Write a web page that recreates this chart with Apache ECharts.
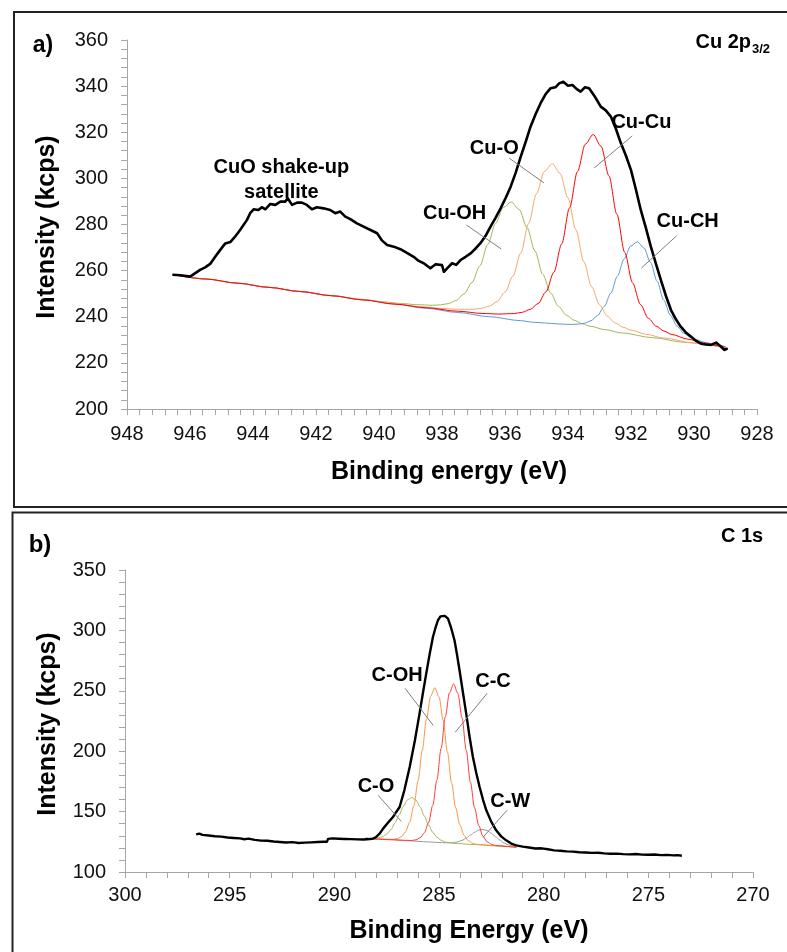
<!DOCTYPE html>
<html>
<head>
<meta charset="utf-8">
<script src="https://cdn.jsdelivr.net/npm/echarts@6/dist/echarts.min.js"></script>
<style>
html,body{margin:0;padding:0;background:#fff}
#chart{width:787px;height:952px}
</style>
</head>
<body>
<div id="chart"></div>
<script>
// ---------- Cu 2p3/2 spectrum: [binding energy (eV), intensity (kcps)] ----------
const cuEnvelope = [[946.56,258.2],[946.3,258.0],[946.0,257.4],[945.89,258.4],[945.68,260.3],[945.52,261.4],[945.36,262.9],[945.2,266.0],[945.04,269.0],[944.88,271.8],[944.72,272.4],[944.57,274.7],[944.41,277.6],[944.19,282.0],[944.09,284.9],[943.98,286.6],[943.83,286.3],[943.72,287.5],[943.61,286.6],[943.45,288.9],[943.29,288.5],[943.13,289.9],[942.98,289.9],[942.9,291.4],[942.76,288.5],[942.6,289.5],[942.45,289.5],[942.29,288.5],[942.13,286.6],[941.97,287.5],[941.76,287.0],[941.55,286.3],[941.39,284.9],[941.23,285.6],[941.07,283.4],[940.91,282.3],[940.7,280.5],[940.49,279.1],[940.27,277.6],[940.06,276.2],[939.9,273.0],[939.74,271.1],[939.53,270.4],[939.32,269.3],[939.1,267.6],[938.9,266.0],[938.74,264.2],[938.58,263.2],[938.37,261.0],[938.2,262.8],[938.0,262.4],[937.94,259.5],[937.8,261.5],[937.68,263.2],[937.55,262.5],[937.41,264.6],[937.25,266.0],[937.09,267.5],[936.94,269.5],[936.78,271.9],[936.62,275.0],[936.46,279.1],[936.3,282.9],[936.14,287.0],[935.98,291.5],[935.82,296.4],[935.66,302.5],[935.5,309.4],[935.34,316.0],[935.19,322.4],[935.03,327.8],[934.87,332.6],[934.71,336.5],[934.55,339.1],[934.4,339.5],[934.28,341.2],[934.15,341.9],[934.0,340.2],[933.86,340.5],[933.73,338.8],[933.6,337.6],[933.46,339.5],[933.33,339.1],[933.15,335.5],[932.96,331.1],[932.8,329.5],[932.64,326.8],[932.48,321.5],[932.32,315.2],[932.16,309.8],[932.0,303.6],[931.85,295.5],[931.69,286.3],[931.53,278.6],[931.37,270.4],[931.21,263.0],[931.05,255.9],[930.89,249.0],[930.73,242.9],[930.57,238.8],[930.42,235.7],[930.26,233.2],[930.1,231.4],[929.94,229.6],[929.78,228.3],[929.62,228.0],[929.46,227.8],[929.3,228.8],[929.14,227.0],[929.04,225.6],[928.93,226.3]];

// fitted components, each drawn on top of the shared background
const cuCuFit = [[946.5,258.2],[945.5,256.38],[944.5,254.57],[943.5,252.75],[942.5,250.93],[941.5,249.12],[940.5,247.30],[939.5,245.48],[938.5,243.9],[937.5,242.4],[936.7,241.41],[936.2,241.18],[935.7,241.38],[935.45,241.95],[935.2,243.19],[934.95,245.71],[934.7,250.79],[934.45,259.25],[934.2,271.55],[933.95,287.24],[933.7,302.94],[933.45,314.81],[933.2,319.03],[932.95,313.91],[932.7,301.12],[932.45,284.52],[932.2,267.91],[931.95,254.71],[931.7,245.33],[931.45,239.35],[931.2,235.93],[930.95,233.77],[930.7,232.30],[930.2,230.28],[929.7,228.69],[929.3,227.55],[929.0,226.9]];

const cuOFit = [[946.5,258.2],[945.5,256.38],[944.5,254.57],[943.5,252.75],[942.5,250.93],[941.5,249.12],[940.5,247.30],[939.5,245.8],[938.75,244.4],[938.0,243.60],[937.5,243.25],[937.0,243.25],[936.75,243.64],[936.5,244.58],[936.25,246.58],[936.0,250.68],[935.75,257.57],[935.5,267.62],[935.25,280.46],[935.0,293.31],[934.75,303.00],[934.5,306.40],[934.25,302.10],[934.0,291.49],[933.75,277.74],[933.5,263.98],[933.25,253.03],[933.0,245.22],[932.75,240.22],[932.5,237.32],[932.25,235.46],[932.0,234.17],[931.5,232.35],[931.0,230.88],[930.0,228.6],[929.0,226.7]];

const cuOHFit = [[946.5,258.2],[945.5,256.38],[944.5,254.57],[943.5,252.75],[942.5,250.93],[941.5,249.12],[940.5,247.5],[939.9,246.5],[939.3,245.73],[938.8,245.23],[938.3,244.98],[938.05,245.15],[937.8,245.71],[937.55,247.04],[937.3,249.91],[937.05,254.80],[936.8,262.00],[936.55,271.23],[936.3,280.47],[936.05,287.41],[935.8,289.76],[935.55,286.51],[935.3,278.65],[935.05,268.51],[934.8,258.36],[934.55,250.26],[934.3,244.45],[934.05,240.68],[933.8,238.45],[933.55,236.97],[933.3,235.90],[932.8,234.33],[932.3,233.01],[931.3,230.9],[930.3,228.9],[929.0,226.5]];

const cuCHFit = [[946.5,258.2],[945.5,256.38],[944.5,254.57],[943.5,252.75],[942.5,250.93],[941.5,249.12],[940.5,247.30],[939.5,245.48],[938.5,243.66],[937.5,241.85],[936.5,240.03],[935.5,238.3],[935.1,237.6],[934.74,237.32],[934.32,236.89],[933.9,236.66],[933.69,236.77],[933.48,237.21],[933.27,238.26],[933.06,240.55],[932.85,244.47],[932.64,250.24],[932.43,257.64],[932.22,265.05],[932.01,270.62],[931.8,272.49],[931.59,269.86],[931.38,263.53],[931.17,255.36],[930.96,247.18],[930.75,240.65],[930.54,235.97],[930.33,232.92],[930.12,231.11],[929.91,229.91],[929.7,229.03],[929.28,227.73],[929.0,227.0]];

// ---------- C 1s spectrum ----------
const cEnvelope = [[296.6,131.2],[296.45,131.8],[296.3,130.7],[296.0,130.2],[295.7,129.6],[295.4,129.3],[295.1,128.6],[294.8,128.2],[294.5,127.8],[294.3,127.1],[294.1,127.6],[293.8,126.6],[293.5,126.0],[293.2,125.9],[292.9,125.2],[292.6,124.8],[292.3,124.4],[292.0,124.7],[291.7,124.0],[291.4,124.3],[291.1,124.5],[290.8,124.8],[290.5,125.0],[290.35,125.1],[290.3,127.4],[290.1,127.8],[289.8,127.5],[289.5,127.3],[289.2,127.2],[288.9,127.0],[288.6,126.9],[288.3,127.3],[288.15,127.6],[288.0,129.0],[287.85,131.5],[287.67,135.9],[287.45,140.5],[287.2,145.5],[287.05,149.5],[286.88,153.8],[286.65,168.0],[286.4,186.9],[286.15,209.0],[285.93,231.1],[285.77,248.0],[285.61,264.2],[285.45,280.0],[285.29,294.5],[285.17,302.0],[285.05,308.4],[284.93,311.6],[284.84,312.5],[284.72,312.0],[284.57,309.8],[284.42,302.0],[284.26,291.8],[284.14,280.0],[284.02,267.0],[283.86,249.0],[283.7,231.1],[283.54,212.0],[283.38,195.2],[283.22,182.0],[283.06,170.4],[282.9,160.0],[282.74,151.1],[282.5,141.5],[282.27,134.5],[282.03,129.5],[281.79,126.2],[281.55,123.5],[281.31,122.1],[281.0,121.0],[280.7,120.3],[280.4,119.5],[280.1,119.6],[279.8,118.8],[279.5,117.9],[279.2,117.6],[278.9,117.1],[278.6,116.9],[278.3,116.4],[278.0,116.1],[277.7,115.8],[277.4,115.9],[277.1,115.4],[276.8,115.1],[276.5,115.2],[276.2,114.8],[275.9,114.6],[275.6,114.9],[275.3,114.4],[275.0,114.3],[274.7,114.5],[274.4,114.0],[274.1,114.2],[273.8,113.8],[273.6,114.0],[273.4,113.5]];

const cOHFit = [[288.5,127.96],[287.9,127.4],[287.2,127.00],[287.0,127.56],[286.8,129.15],[286.6,133.17],[286.4,141.29],[286.2,155.03],[286.0,175.43],[285.8,200.70],[285.6,226.22],[285.4,245.47],[285.2,252.56],[285.0,245.05],[284.8,225.40],[284.6,199.46],[284.4,173.79],[284.2,152.97],[284.0,138.81],[283.8,130.29],[283.6,125.85],[283.4,123.86],[283.2,122.88],[282.3,121.8],[281.3,120.54]];

const cCFit = [[288.5,127.96],[287.4,126.8],[286.3,126.09],[286.1,126.67],[285.9,128.32],[285.7,132.46],[285.5,140.84],[285.3,155.02],[285.1,176.06],[284.9,202.13],[284.7,228.45],[284.5,248.32],[284.3,255.63],[284.1,247.90],[283.9,227.63],[283.7,200.89],[283.5,174.42],[283.3,152.96],[283.1,138.36],[282.9,129.58],[282.7,125.02],[282.5,122.97],[282.3,121.97],[281.8,121.1],[281.3,120.54]];

const cOFit = [[288.5,127.96],[288.3,127.87],[288.1,127.87],[287.9,128.18],[287.7,129.16],[287.5,131.30],[287.3,135.01],[287.1,140.60],[286.9,147.56],[286.7,154.59],[286.5,159.86],[286.3,161.70],[286.1,159.44],[285.9,153.77],[285.7,146.32],[285.5,138.96],[285.3,132.95],[285.1,128.82],[284.9,126.28],[284.7,124.88],[284.5,124.17],[284.3,123.75],[283.3,122.7],[282.3,121.6],[281.3,120.54]];

const cWFit = [[288.5,127.96],[287.5,126.9],[286.5,125.9],[285.5,124.9],[284.9,124.30],[284.5,124.15],[284.3,124.37],[284.1,125.01],[283.9,126.22],[283.7,128.10],[283.5,130.49],[283.3,132.89],[283.1,134.67],[282.9,135.20],[282.7,134.25],[282.5,132.07],[282.3,129.25],[282.1,126.46],[281.9,124.16],[281.7,122.53],[281.5,121.49],[281.3,120.85]];

// ---------- annotations (data units) ----------
const cuLabels = ['CuO shake-up\nsatellite', 'Cu-O', 'Cu-Cu', 'Cu-OH', 'Cu-CH'];
const cuLabelAt = [[943.1,299.3],[936.34,313.0],[931.67,324.2],[937.6,284.8],[930.2,281.3]];
const cuLeaders = [null, [[935.87,308.8],[934.76,298.0]], [[931.96,318.4],[933.17,304.5]], [[937.23,279.8],[936.12,269.4]], [[930.56,275.0],[931.67,261.1]]];

const cLabels = ['C-OH', 'C-C', 'C-O', 'C-W'];
const cLabelAt = [[287.0,262.8],[282.42,257.9],[288.01,170.9],[281.6,158.5]];
const cLeaders = [[[286.62,252.1],[285.28,221.4]], [[282.7,247.9],[284.23,215.6]], [[287.91,163.5],[286.81,142.0]], [[281.75,151.1],[282.9,128.7]]];

// ---------- axes: [min, max, interval] ----------
const cuXRange = [928, 948, 2];
const cuYRange = [200, 360, 20];
const cXRange = [270, 300, 5];
const cYRange = [100, 350, 50];

const FONT = '"Liberation Sans", Arial, Helvetica, sans-serif';
const AXIS_GRAY = '#a6a6a6';

function xAxis(grid, r, margin) {
  return {
    type: 'value', gridIndex: grid, min: r[0], max: r[1], interval: r[2], inverse: true,
    axisLine: { show: true, onZero: false, lineStyle: { color: AXIS_GRAY, width: 1 } },
    axisTick: { show: true, length: 6, lineStyle: { color: AXIS_GRAY } },
    minorTick: { show: true, splitNumber: 5, length: 6, lineStyle: { color: AXIS_GRAY } },
    splitLine: { show: false },
    axisLabel: { color: '#111', fontSize: 20, fontFamily: FONT, margin: margin }
  };
}
function yAxis(grid, r) {
  return {
    type: 'value', gridIndex: grid, min: r[0], max: r[1], interval: r[2],
    axisLine: { show: true, onZero: false, lineStyle: { color: AXIS_GRAY, width: 1 } },
    axisTick: { show: true, length: 6, lineStyle: { color: AXIS_GRAY } },
    minorTick: { show: true, splitNumber: 5, length: 6, lineStyle: { color: AXIS_GRAY } },
    splitLine: { show: false },
    axisLabel: { color: '#111', fontSize: 20, fontFamily: FONT, margin: 19 }
  };
}

function fitLine(grid, data, color, width) {
  return {
    type: 'line', xAxisIndex: grid, yAxisIndex: grid, data: data,
    showSymbol: false, symbol: 'none', smooth: 0.3, smoothMonotone: 'x',
    lineStyle: { color: color, width: width || 1 }, z: 2, silent: true
  };
}
function envelopeLine(grid, data, width) {
  return {
    type: 'line', xAxisIndex: grid, yAxisIndex: grid, data: data,
    showSymbol: false, symbol: 'none', smooth: false,
    lineStyle: { color: '#000', width: width, join: 'round' }, z: 5, silent: true
  };
}

const chart = echarts.init(document.getElementById('chart'), null, { renderer: 'canvas' });

chart.setOption({
  animation: false,
  backgroundColor: '#fff',
  grid: [
    { left: 127, top: 40, width: 630, height: 369 },
    { left: 125, top: 570, width: 628, height: 302 }
  ],
  xAxis: [xAxis(0, cuXRange, 15), xAxis(1, cXRange, 13)],
  yAxis: [yAxis(0, cuYRange), yAxis(1, cYRange)],
  series: [
    fitLine(0, cuOHFit, '#9bbb59'),
    fitLine(0, cuCHFit, '#5b9bd5'),
    fitLine(0, cuOFit, '#f7a66c'),
    fitLine(0, cuCuFit, '#ff0000'),
    envelopeLine(0, cuEnvelope, 2.6),
    fitLine(1, cWFit, '#9a9a9a'),
    fitLine(1, cOFit, '#9bbb59'),
    fitLine(1, cOHFit, '#f79646'),
    fitLine(1, cCFit, '#ff3b3b'),
    envelopeLine(1, cEnvelope, 2.4)
  ]
});

// Frames, panel tags, axis titles and peak annotations
const g = [];
g.push({ type: 'rect', shape: { x: 14, y: 12, width: 800, height: 495 }, style: { fill: 'none', stroke: '#222', lineWidth: 2 }, silent: true });
g.push({ type: 'rect', shape: { x: 12.5, y: 512.5, width: 800, height: 500 }, style: { fill: 'none', stroke: '#222', lineWidth: 2 }, silent: true });

function txt(x, y, text, size, opts) {
  const o = Object.assign({ align: 'center', rot: 0, weight: 'bold' }, opts || {});
  return {
    type: 'text', x: x, y: y, rotation: o.rot, silent: true, z: 10,
    style: { text: text, fill: '#000', font: o.weight + ' ' + size + 'px ' + FONT,
             textAlign: o.align, textVerticalAlign: 'middle', lineHeight: o.lh || size * 1.25 }
  };
}
g.push(txt(43, 46, 'a)', 23));
g.push(txt(40, 545, 'b)', 24));
g.push(txt(751, 42, 'Cu 2p', 20, { align: 'right' }));
g.push(txt(752, 49, '3/2', 13, { align: 'left' }));
g.push(txt(742, 536, 'C 1s', 20));
g.push(txt(47, 227, 'Intensity (kcps)', 25, { rot: Math.PI / 2 }));
g.push(txt(48, 724, 'Intensity (kcps)', 25, { rot: Math.PI / 2 }));
g.push(txt(449, 472, 'Binding energy (eV)', 25));
g.push(txt(469, 931, 'Binding Energy (eV)', 25));

function annotate(grid, labels, at, leaders) {
  labels.forEach(function (lab, i) {
    const p = chart.convertToPixel({ gridIndex: grid }, at[i]);
    g.push(txt(p[0], p[1], lab, 20, { lh: 25 }));
    if (leaders[i]) {
      const a = chart.convertToPixel({ gridIndex: grid }, leaders[i][0]);
      const b = chart.convertToPixel({ gridIndex: grid }, leaders[i][1]);
      g.push({ type: 'line', silent: true, z: 9, shape: { x1: a[0], y1: a[1], x2: b[0], y2: b[1] },
               style: { stroke: '#808080', lineWidth: 1 } });
    }
  });
}
annotate(0, cuLabels, cuLabelAt, cuLeaders);
annotate(1, cLabels, cLabelAt, cLeaders);

chart.setOption({ graphic: g });
</script>
</body>
</html>
